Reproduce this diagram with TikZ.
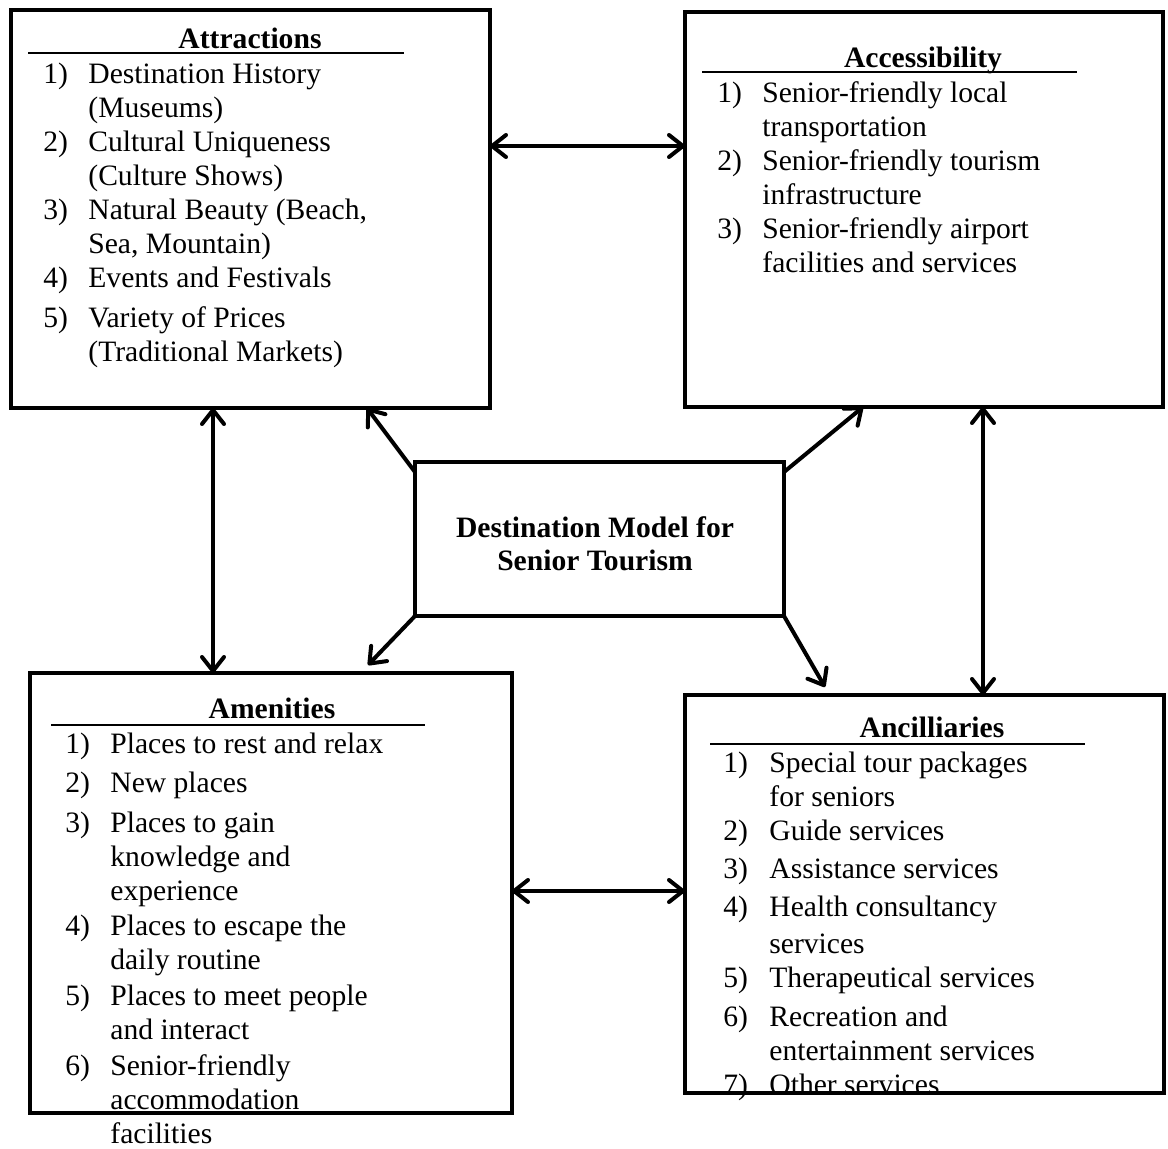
\documentclass[tikz,border=0pt]{standalone}
\usepackage{fontspec}
\setmainfont{Liberation Serif}
\usepackage{tikz}
\usetikzlibrary{positioning,calc,arrows.meta}
\tikzset{
	box/.style={draw,line width=2.2pt,inner sep=0pt,outer sep=0pt},
	arr/.style={line width=2pt,line cap=round},
	head/.style={inner sep=0pt,anchor=base,font=\bfseries\fontsize{14.8}{17}\selectfont},
	items/.style={inner sep=0pt,anchor=base west,font=\fontsize{14.8}{17}\selectfont},
	>={Straight Barb[length=7pt,width=11pt,round]}
}

\begin{document}
\begin{tikzpicture}[x=0.5pt,y=-0.5pt]
	\useasboundingbox (0,0) rectangle (1168,1148);
	
	%Boites
	\node[box,minimum width=239.5pt,minimum height=199pt] (attr) at (250.5,209) {};
	\node[box,minimum width=239pt,minimum height=197.5pt] (acc) at (924,209.5) {};
	\node[box,minimum width=184.5pt,minimum height=77pt] (centre) at (599.5,539) {};
	\node[box,minimum width=241pt,minimum height=220pt] (amen) at (271,893) {};
	\node[box,minimum width=239.5pt,minimum height=199pt] (anc) at (924.5,894) {};
	
	%Titres
	\node[head] (attrhead) at (250,48) {Attractions};
	\node[head] (acchead) at (923,67) {Accessibility};
	\node[head] (amenhead) at (272,718) {Amenities};
	\node[head] (anchead) at (932,737) {Ancilliaries};
	\draw[line width=0.6pt] (28,53) -- (404,53);
	\draw[line width=0.6pt] (702,72) -- (1077,72);
	\draw[line width=0.6pt] (51,725) -- (425,725);
	\draw[line width=0.6pt] (710,744) -- (1085,744);
	
	\node[head] (centretext) at (595,537) {\begin{tabular}[t]{@{}c@{}}Destination Model for\\[-0.5pt] Senior Tourism\end{tabular}};
	
	%Listes
	\node[items] (attrlist) at (43,83) {\begin{tabular}[t]{@{}p{22.5pt}@{}l@{}}
		1) & Destination History\\
		   & (Museums)\\
		2) & Cultural Uniqueness\\
		   & (Culture Shows)\\
		3) & Natural Beauty (Beach,\\
		   & Sea, Mountain)\\
		4) & Events and Festivals\\[3pt]
		5) & Variety of Prices\\
		   & (Traditional Markets)
	\end{tabular}};
	
	\node[items] (acclist) at (717,102) {\begin{tabular}[t]{@{}p{22.5pt}@{}l@{}}
		1) & Senior-friendly local\\
		   & transportation\\
		2) & Senior-friendly tourism\\
		   & infrastructure\\
		3) & Senior-friendly airport\\
		   & facilities and services
	\end{tabular}};
	
	\node[items] (amenlist) at (65,753) {\begin{tabular}[t]{@{}p{22.5pt}@{}l@{}}
		1) & Places to rest and relax\\[2.5pt]
		2) & New places\\[3pt]
		3) & Places to gain\\
		   & knowledge and\\
		   & experience\\[0.5pt]
		4) & Places to escape the\\
		   & daily routine\\[1pt]
		5) & Places to meet people\\
		   & and interact\\[1pt]
		6) & Senior-friendly\\
		   & accommodation\\
		   & facilities
	\end{tabular}};
	
	\node[items] (anclist) at (723,772) {\begin{tabular}[t]{@{}p{23pt}@{}l@{}}
		1) & Special tour packages\\
		   & for seniors\\
		2) & Guide services\\[2pt]
		3) & Assistance services\\[2pt]
		4) & Health consultancy\\[1.5pt]
		   & services\\
		5) & Therapeutical services\\[2.5pt]
		6) & Recreation and\\
		   & entertainment services\\
		7) & Other services
	\end{tabular}};
	
	%Fleches entre les boites
	\coordinate (th) at ([yshift=31.5pt]attr.east);
	\coordinate (bh) at ([yshift=1pt]amen.east);
	\coordinate (lv) at ([xshift=-18.75pt]attr.south);
	\coordinate (rv) at ([xshift=29.5pt]acc.south);
	\draw[arr,<->] (th) -- (th -| acc.west);
	\draw[arr,<->] (bh) -- (bh -| anc.west);
	\draw[arr,<->] (lv) -- (lv |- amen.north);
	\draw[arr,<->] (rv) -- (rv |- anc.north);
	
	%Fleches depuis le centre
	\draw[arr,->] ([yshift=-5pt]centre.north west) -- ([xshift=58.25pt]attr.south);
	\draw[arr,->] ([yshift=-5pt]centre.north east) -- ([xshift=-30.5pt]acc.south);
	\draw[arr,->] (centre.south west) -- ([xshift=48.5pt,yshift=4pt]amen.north);
	\draw[arr,->] (centre.south east) -- ([xshift=-49.75pt,yshift=4pt]anc.north);
	
\end{tikzpicture}
\end{document}
